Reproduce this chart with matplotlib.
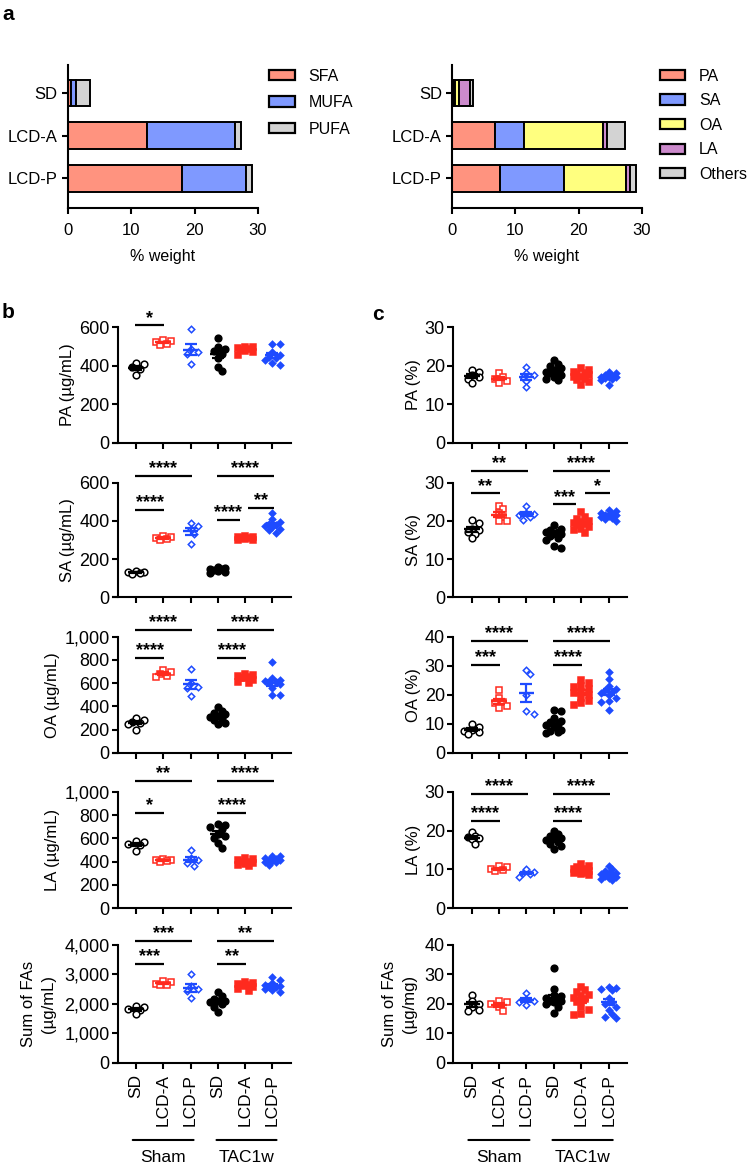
import numpy as np
import matplotlib
matplotlib.use('Agg')
import matplotlib.pyplot as plt
from matplotlib.ticker import FuncFormatter
from matplotlib.patches import Patch

plt.rcParams['font.family'] = ['Liberation Sans', 'DejaVu Sans']
plt.rcParams['axes.linewidth'] = 1.5

# ---------------- Panel a data ----------------
diets = ['SD', 'LCD-A', 'LCD-P']
class_names = ['SFA', 'MUFA', 'PUFA']
sfa = [0.4, 12.4, 18.0]
mufa = [0.8, 14.0, 10.1]
pufa = [2.2, 0.85, 0.9]
fa_names = ['PA', 'SA', 'OA', 'LA', 'Others']
fa_pa = [0.3, 6.8, 7.55]
fa_sa = [0.15, 4.6, 10.2]
fa_oa = [0.6, 12.4, 9.7]
fa_la = [1.8, 0.7, 0.75]
fa_oth = [0.5, 2.85, 0.9]

# ---------------- Panel b/c data ----------------
groups = ['SD', 'LCD-A', 'LCD-P', 'SD', 'LCD-A', 'LCD-P']
surgeries = ['Sham', 'TAC1w']

# panel b (µg/mL): Sham SD, Sham LCD-A, Sham LCD-P, TAC SD, TAC LCD-A, TAC LCD-P
b_pa = [[413, 410, 392, 385, 352],
        [532, 528, 522, 515, 510],
        [590, 485, 470, 460, 410],
        [543, 500, 485, 475, 460, 440, 395, 375],
        [500, 495, 490, 485, 482, 478, 470, 455],
        [515, 512, 470, 455, 445, 440, 430, 415, 405]]
b_sa = [[140, 135, 130, 125, 120],
        [320, 315, 310, 305, 298],
        [390, 375, 355, 330, 280],
        [160, 155, 150, 148, 145, 140, 135, 125],
        [320, 318, 315, 312, 310, 305, 300, 298],
        [440, 410, 395, 385, 380, 375, 370, 360, 350, 335]]
b_oa = [[300, 280, 265, 255, 250, 200],
        [715, 695, 680, 665, 650],
        [725, 600, 570, 555, 490],
        [395, 360, 340, 330, 320, 310, 300, 280, 255, 250],
        [680, 670, 660, 650, 645, 640, 630, 610, 600],
        [780, 640, 630, 620, 610, 600, 590, 560, 500, 495]]
b_la = [[580, 565, 555, 540, 490],
        [425, 415, 410, 405, 400],
        [500, 430, 410, 390, 360],
        [720, 715, 700, 680, 640, 620, 600, 560, 515],
        [430, 425, 410, 400, 395, 390, 380, 370, 360],
        [450, 445, 430, 420, 415, 410, 405, 400, 395, 370]]
b_sum = [[1920, 1880, 1820, 1780, 1640],
         [2760, 2720, 2680, 2650, 2630],
         [3000, 2600, 2500, 2420, 2200],
         [2400, 2250, 2150, 2100, 2080, 2050, 2000, 1900, 1730],
         [2740, 2700, 2680, 2650, 2620, 2600, 2550, 2500, 2420],
         [2900, 2800, 2700, 2650, 2600, 2580, 2550, 2500, 2450, 2400]]

# panel c (% / µg/mg)
c_pa = [[19.0, 18.5, 17.5, 17.0, 16.5, 15.5],
        [18.0, 17.0, 16.5, 16.0, 15.5],
        [19.8, 18.0, 17.5, 17.0, 16.0, 14.6],
        [21.5, 20.5, 20.0, 19.5, 19.0, 18.5, 18.5, 18.0, 17.5, 17.0, 16.5, 16.3],
        [19.3, 19.0, 18.5, 18.0, 17.8, 17.5, 17.0, 17.0, 16.5, 16.3, 15.8, 15.0],
        [18.5, 18.0, 17.5, 17.3, 17.2, 17.0, 17.0, 16.8, 16.5, 16.2, 15.0]]
c_sa = [[20.2, 19.5, 18.0, 17.5, 17.0, 16.7, 15.5],
        [24.0, 23.0, 22.0, 21.0, 20.0, 20.0],
        [24.0, 22.0, 21.8, 21.5, 21.0, 20.2],
        [18.9, 18.0, 17.5, 17.2, 17.0, 16.8, 16.5, 16.0, 15.5, 15.0, 13.3, 12.8],
        [22.4, 21.0, 20.5, 20.0, 19.8, 19.5, 19.3, 19.0, 18.5, 18.0, 17.5, 16.8],
        [22.8, 22.5, 22.0, 21.8, 21.6, 21.5, 21.3, 21.0, 20.8, 20.5, 20.0]]
c_oa = [[10.0, 9.0, 8.0, 7.5, 7.0, 6.3],
        [21.5, 19.0, 17.5, 17.0, 16.0, 15.5],
        [28.5, 27.0, 20.0, 14.3, 13.3],
        [14.7, 14.5, 12.0, 11.0, 10.5, 10.0, 9.5, 9.0, 8.0, 7.5, 7.0, 6.7],
        [25.0, 24.0, 23.0, 22.5, 22.0, 21.0, 20.5, 20.0, 19.0, 18.0, 17.0, 16.5],
        [28.0, 25.5, 23.0, 22.0, 21.5, 21.0, 20.5, 20.0, 19.0, 18.0, 17.5, 14.8]]
c_la = [[19.7, 18.5, 18.3, 18.0, 17.8, 16.5],
        [10.8, 10.5, 10.2, 9.8, 9.6],
        [10.2, 9.3, 9.0, 8.8, 8.0],
        [20.0, 19.0, 18.5, 18.2, 18.0, 17.5, 17.0, 16.5, 16.0, 15.2],
        [11.5, 11.0, 10.5, 10.2, 10.0, 9.8, 9.6, 9.4, 9.2, 9.0, 8.8, 8.6],
        [11.0, 10.0, 9.6, 9.2, 9.0, 8.8, 8.6, 8.4, 8.0, 7.8, 7.5, 7.3]]
c_sum = [[23.0, 21.0, 20.0, 19.0, 18.0, 17.5],
         [21.0, 20.5, 20.0, 19.0, 17.5],
         [23.5, 21.5, 21.0, 20.5, 19.5],
         [32.0, 25.0, 23.0, 22.5, 22.0, 21.5, 21.0, 21.0, 20.5, 20.0, 19.0, 16.8],
         [25.8, 24.5, 24.0, 23.0, 22.5, 22.0, 21.5, 20.5, 19.0, 18.0, 16.5, 16.2],
         [25.5, 25.2, 25.0, 24.5, 22.0, 20.5, 20.0, 19.0, 18.0, 16.5, 15.5, 15.0]]

# significance annotations: (group i, group j, bracket level, label)
sig_b_pa = [(0, 1, 610, '*')]
sig_b_sa = [(0, 2, 637, '****'), (0, 1, 457, '****'), (3, 5, 637, '****'),
            (3, 4, 405, '****'), (4, 5, 466, '**')]
sig_b_oa = [(0, 2, 1058, '****'), (0, 1, 819, '****'), (3, 5, 1058, '****'), (3, 4, 819, '****')]
sig_b_la = [(0, 2, 1092, '**'), (0, 1, 820, '*'), (3, 5, 1092, '****'), (3, 4, 820, '****')]
sig_b_sum = [(0, 2, 4142, '***'), (0, 1, 3336, '***'), (3, 5, 4142, '**'), (3, 4, 3336, '**')]
sig_c_pa = []
sig_c_sa = [(0, 2, 33.1, '**'), (0, 1, 27.2, '**'), (3, 5, 33.1, '****'),
            (3, 4, 24.3, '***'), (4, 5, 27.2, '*')]
sig_c_oa = [(0, 2, 38.5, '****'), (0, 1, 30.4, '***'), (3, 5, 38.5, '****'), (3, 4, 30.4, '****')]
sig_c_la = [(0, 2, 29.5, '****'), (0, 1, 22.4, '****'), (3, 5, 29.5, '****'), (3, 4, 22.4, '****')]
sig_c_sum = []

# ---------------- styling ----------------
RED = '#FF2A1E'
BLUE = '#1E4BFF'
g_colors = ['black', RED, BLUE, 'black', RED, BLUE]
g_markers = ['o', 's', 'D', 'o', 's', 'D']
g_msize = [4.8, 4.6, 3.3, 4.8, 4.6, 3.3]
g_filled = [False, False, False, True, True, True]

W, H = 749, 1173
fig = plt.figure(figsize=(W / 100, H / 100), dpi=100)


def add_ax(x0, y0, x1, y1):
    return fig.add_axes([x0 / W, 1 - y1 / H, (x1 - x0) / W, (y1 - y0) / H])


# ---------------- Panel a ----------------
def stacked(ax, series, colors, names, legend_anchor, spacing):
    ypos = np.arange(len(diets))
    left = np.zeros(len(diets))
    handles = []
    for vals, col, nm in zip(series, colors, names):
        ax.barh(ypos, vals, left=left, height=0.63, color=col, edgecolor='black',
                linewidth=1.4, zorder=2)
        left = left + np.asarray(vals)
        handles.append(Patch(facecolor=col, edgecolor='black', linewidth=1.6, label=nm))
    ax.set_ylim(2.7, -0.66)
    ax.set_xlim(0, 30)
    ax.set_xticks([0, 10, 20, 30])
    ax.set_yticks(ypos)
    ax.set_yticklabels(diets)
    ax.set_xlabel('% weight', fontsize=11.5, labelpad=8)
    for s in ['top', 'right']:
        ax.spines[s].set_visible(False)
    ax.tick_params(labelsize=12, width=1.5, length=4)
    ax.tick_params(axis='x', labelsize=12, pad=7)
    leg = ax.legend(handles=handles, loc='upper left', bbox_to_anchor=legend_anchor,
                    frameon=False, fontsize=11.5, handlelength=1.6, handleheight=0.62,
                    handletextpad=0.85, labelspacing=spacing, borderaxespad=0, borderpad=0)
    return leg


axa1 = add_ax(68, 65, 258, 208)
stacked(axa1, [sfa, mufa, pufa], ['#FF937F', '#7F99FF', '#D3D3D3'], class_names,
        (1.06, 0.975), 0.72)
axa2 = add_ax(452.3, 65, 641.7, 208)
stacked(axa2, [fa_pa, fa_sa, fa_oa, fa_la, fa_oth],
        ['#FF937F', '#7F99FF', '#FFFF7F', '#CC8ACC', '#D3D3D3'], fa_names,
        (1.095, 0.975), 0.6)

fig.text(2 / W, 1 - 15 / H, 'a', fontweight='bold', fontsize=15, va='center', ha='left')
fig.text(2 / W, 1 - 313 / H, 'b', fontweight='bold', fontsize=15, va='center', ha='left')
fig.text(372 / W, 1 - 314 / H, 'c', fontweight='bold', fontsize=15, va='center', ha='left')


# ---------------- Panels b/c ----------------
def swarm_offsets(vals, ax_h_px, yrange, xpx_per_cat, dia):
    vals = np.asarray(vals, dtype=float)
    ypx = vals / yrange * ax_h_px
    order = np.argsort(-vals)
    placed = []
    offs = np.zeros(len(vals))
    step = dia * 0.6
    cands = [0.0]
    for k in range(1, 12):
        cands += [k * step, -k * step]
    for i in order:
        best, bestd = 0.0, -1
        for c in cands:
            if abs(c) > 0.36 * xpx_per_cat:
                continue
            dmin = min([np.hypot(c - px, ypx[i] - py) for px, py in placed] + [1e9])
            if dmin >= dia * 0.85:
                best = c
                bestd = dmin
                break
            if dmin > bestd:
                best, bestd = c, dmin
        offs[i] = best
        placed.append((best, ypx[i]))
    return offs / xpx_per_cat


def fmt(x, pos):
    return f'{x:,.0f}'


tops = [327.3, 482.7, 636.7, 791.7, 944.7]
bots = [442.7, 597.3, 752.7, 908.3, 1062.7]


def draw_panel(x0, x1, xlim, rows):
    axes = []
    for r, (lab, data, ymax, yticks, sigs) in enumerate(rows):
        ax = add_ax(x0, tops[r], x1, bots[r])
        axes.append(ax)
        ax_h = bots[r] - tops[r]
        xpc = (x1 - x0) / (xlim[1] - xlim[0])
        for g, vals in enumerate(data):
            off = swarm_offsets(vals, ax_h, ymax, xpc, 6.3)
            xs = g + off
            ax.plot(xs, vals, linestyle='none', marker=g_markers[g], ms=g_msize[g],
                    mec=g_colors[g], mfc=g_colors[g] if g_filled[g] else 'white',
                    mew=1.1, zorder=3, clip_on=False)
            m = np.mean(vals)
            sem = np.std(vals, ddof=1) / np.sqrt(len(vals))
            ax.hlines(m, g - 0.29, g + 0.29, color=g_colors[g], lw=1.7, zorder=4)
            ax.errorbar([g], [m], yerr=[sem], color=g_colors[g], lw=1.6, capsize=4,
                        capthick=1.6, zorder=4, fmt='none')
        for (i, j, yv, txt) in sigs:
            a = i - 0.04
            b = j + 0.04
            if (i, j) in [(3, 4)] and any(s[0] == 4 for s in sigs):
                b = j - 0.2
            if i == 4:
                a = i + 0.12
            ax.plot([a, b], [yv, yv], color='black', lw=1.6, clip_on=False, zorder=5,
                    solid_capstyle='butt')
            ax.annotate(txt, xy=((a + b) / 2, yv), xytext=(0, 2.0), textcoords='offset points',
                        ha='center', va='baseline', fontsize=13, fontweight='bold',
                        annotation_clip=False)
        ax.set_xlim(*xlim)
        ax.set_ylim(0, ymax)
        ax.set_yticks(yticks)
        ax.yaxis.set_major_formatter(FuncFormatter(fmt))
        ax.set_xticks(range(6))
        ax.set_xticklabels([])
        for s in ['top', 'right']:
            ax.spines[s].set_visible(False)
        ax.spines['bottom'].set_bounds(xlim[0] - 0.17, xlim[1])
        ax.tick_params(labelsize=13, width=1.5, length=4)
        ax.tick_params(axis='y', pad=2)
        if '\n' in lab:
            ax.set_ylabel(lab, fontsize=12, labelpad=6, linespacing=1.4)
        else:
            ax.set_ylabel(lab, fontsize=12, labelpad=3)
    last = axes[-1]
    last.set_xticklabels(groups, rotation=90, fontsize=12.5)
    last.tick_params(axis='x', pad=4)
    for (sname, a, b) in [('Sham', -0.12, 2.11), ('TAC1w', 2.95, 5.15)]:
        last.annotate('', xy=(a, -0.655), xytext=(b, -0.655), xycoords=('data', 'axes fraction'),
                      textcoords=('data', 'axes fraction'),
                      arrowprops=dict(arrowstyle='-', lw=1.5, color='black',
                                      shrinkA=0, shrinkB=0))
        last.annotate(sname, xy=((a + b) / 2, -0.80), xycoords=('data', 'axes fraction'),
                      ha='center', va='center', fontsize=12.5, annotation_clip=False)
    return axes


rows_b = [
    ('PA (µg/mL)', b_pa, 600, [0, 200, 400, 600], sig_b_pa),
    ('SA (µg/mL)', b_sa, 600, [0, 200, 400, 600], sig_b_sa),
    ('OA (µg/mL)', b_oa, 1000, [0, 200, 400, 600, 800, 1000], sig_b_oa),
    ('LA (µg/mL)', b_la, 1000, [0, 200, 400, 600, 800, 1000], sig_b_la),
    ('Sum of FAs\n(µg/mL)', b_sum, 4000, [0, 1000, 2000, 3000, 4000], sig_b_sum),
]
rows_c = [
    ('PA (%)', c_pa, 30, [0, 10, 20, 30], sig_c_pa),
    ('SA (%)', c_sa, 30, [0, 10, 20, 30], sig_c_sa),
    ('OA (%)', c_oa, 40, [0, 10, 20, 30, 40], sig_c_oa),
    ('LA (%)', c_la, 30, [0, 10, 20, 30], sig_c_la),
    ('Sum of FAs\n(µg/mg)', c_sum, 40, [0, 10, 20, 30, 40], sig_c_sum),
]

draw_panel(118, 291, (-0.66, 5.68), rows_b)
draw_panel(453.3, 627, (-0.67, 5.67), rows_c)

fig.savefig('out.png', dpi=100)
